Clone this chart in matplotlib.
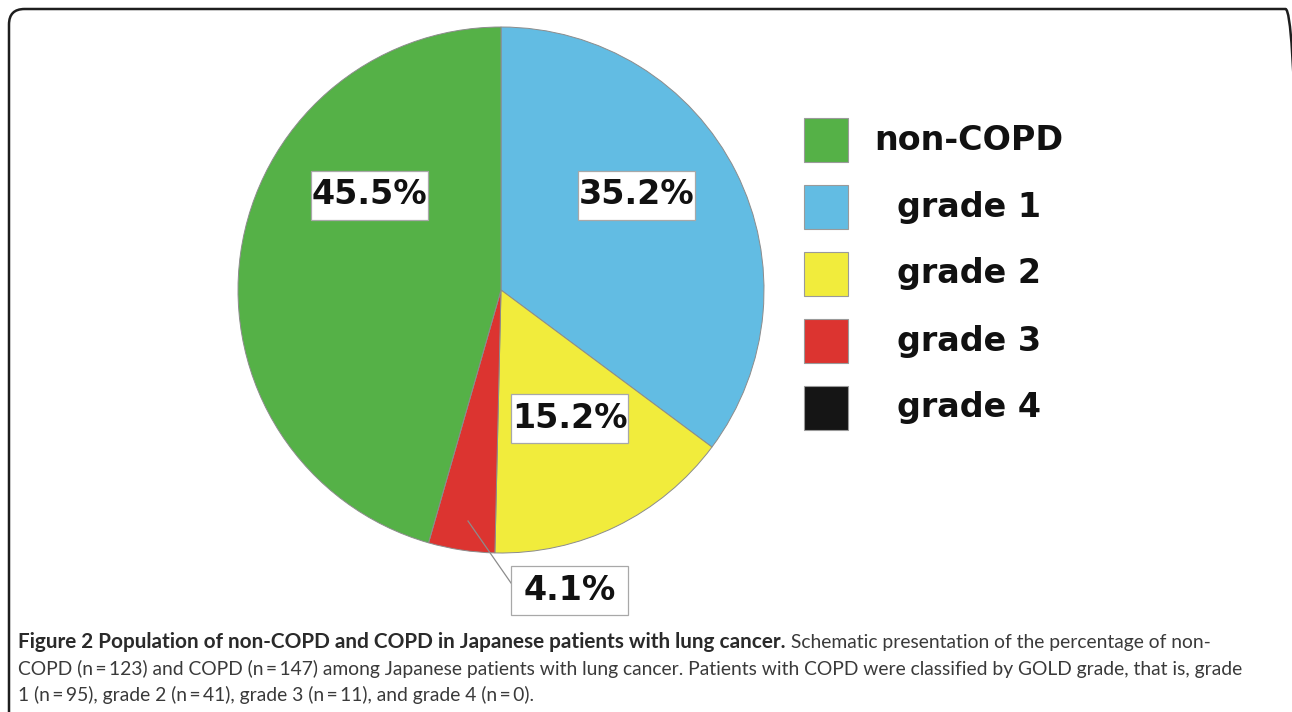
import matplotlib
matplotlib.use("Agg")
import matplotlib.pyplot as plt
from matplotlib.patches import Rectangle, FancyBboxPatch
from matplotlib.lines import Line2D

# data
categories = ["non-COPD", "grade 1", "grade 2", "grade 3", "grade 4"]
counts = [123, 95, 41, 11, 0]
pct_labels = ["45.5%", "35.2%", "15.2%", "4.1%", ""]
colors = ["#55b147", "#62bce3", "#f1ec3c", "#dc3430", "#151515"]
pie_order = [1, 2, 3, 4, 0]  # clockwise from 12 o'clock

caption_bold = "Figure 2 Population of non-COPD and COPD in Japanese patients with lung cancer."
caption_lines = [
    " Schematic presentation of the percentage of non-",
    "COPD (n\u2009=\u2009123) and COPD (n\u2009=\u2009147) among Japanese patients with lung cancer. Patients with COPD were classified by GOLD grade, that is, grade",
    "1 (n\u2009=\u200995), grade 2 (n\u2009=\u200941), grade 3 (n\u2009=\u200911), and grade 4 (n\u2009=\u20090).",
]

W, H = 1292, 712


def fx(x):
    return x / W


def fy(y):
    return 1 - y / H


fig = plt.figure(figsize=(W / 100, H / 100), dpi=100)
fig.patch.set_facecolor("white")

# outer rounded frame (runs off the right and bottom edges)
frame = FancyBboxPatch((fx(9), fy(740)), fx(1301) - fx(9), fy(9) - fy(740),
                       boxstyle="round,pad=0,rounding_size=0.012",
                       transform=fig.transFigure, facecolor="none",
                       edgecolor="#1e1e1e", linewidth=1.8, mutation_aspect=W / H)
fig.add_artist(frame)

# pie
cx, cy, rad = 501, 290, 263
ax = fig.add_axes([fx(cx - rad), fy(cy + rad), 2 * rad / W, 2 * rad / H])
ax.pie([counts[i] for i in pie_order], colors=[colors[i] for i in pie_order],
       startangle=90, counterclock=False, radius=1,
       wedgeprops=dict(edgecolor="#8c8c8c", linewidth=0.7))
ax.set_xlim(-1, 1)
ax.set_ylim(-1, 1)
ax.axis("off")


def to_data(px, py):
    return (px - cx) / rad, (cy - py) / rad


# percentage boxes (centre x, centre y in pixels)
label_pos = {0: (369, 195), 1: (637, 195), 2: (570, 418), 3: (570, 590)}
box_w, box_h = 117, 49
for i, (px, py) in label_pos.items():
    x0, y0 = to_data(px - box_w / 2, py + box_h / 2)
    ax.add_patch(Rectangle((x0, y0), box_w / rad, box_h / rad, facecolor="white",
                           edgecolor="#a8a8a8", linewidth=0.9, clip_on=False, zorder=4))
    tx, ty = to_data(px, py)
    ax.text(tx, ty, pct_labels[i], ha="center", va="center", fontsize=24,
            fontweight="bold", family="DejaVu Sans", color="#111111", zorder=5)

# leader line for the small red slice
lx0, ly0 = to_data(468, 521)
lx1, ly1 = to_data(511, 583)
ax.add_line(Line2D([lx0, lx1], [ly0, ly1], color="#8c8c8c", linewidth=0.9,
                   clip_on=False, zorder=3))

# legend
sq = 44
for k, name in enumerate(categories):
    top = 118 + 67 * k
    fig.add_artist(Rectangle((fx(804), fy(top + sq)), sq / W, sq / H,
                             transform=fig.transFigure, facecolor=colors[k],
                             edgecolor="#9a9a9a", linewidth=0.8))
    fig.text(fx(969), fy(top + sq / 2), name, ha="center", va="center",
             fontsize=24, fontweight="bold", family="DejaVu Sans", color="#111111")

# caption: sizes chosen so the text spans the same widths as the original
r = fig.canvas.get_renderer()
cap_font = "Lato"


def fit_size(text, width, **kw):
    probe = fig.text(0, 0, text, fontsize=14, family=cap_font, **kw)
    w = probe.get_window_extent(r).width
    probe.remove()
    return 14 * width / w


cap_size = fit_size(caption_lines[1], 1228)
bold_size = min(fit_size(caption_bold, 784, fontweight="bold"), cap_size * 1.08)

t = fig.text(fx(18), fy(648), caption_bold, fontsize=bold_size, fontweight="bold",
             family=cap_font, color="#2a2a2a", va="baseline")
bb = t.get_window_extent(r)
fig.text(bb.x1 / W, fy(648), caption_lines[0], fontsize=cap_size, family=cap_font,
         color="#3a3a3a", va="baseline")
fig.text(fx(18), fy(675), caption_lines[1], fontsize=cap_size, family=cap_font,
         color="#3a3a3a", va="baseline")
fig.text(fx(18), fy(701), caption_lines[2], fontsize=cap_size, family=cap_font,
         color="#3a3a3a", va="baseline")

fig.savefig("out.png", dpi=100)
